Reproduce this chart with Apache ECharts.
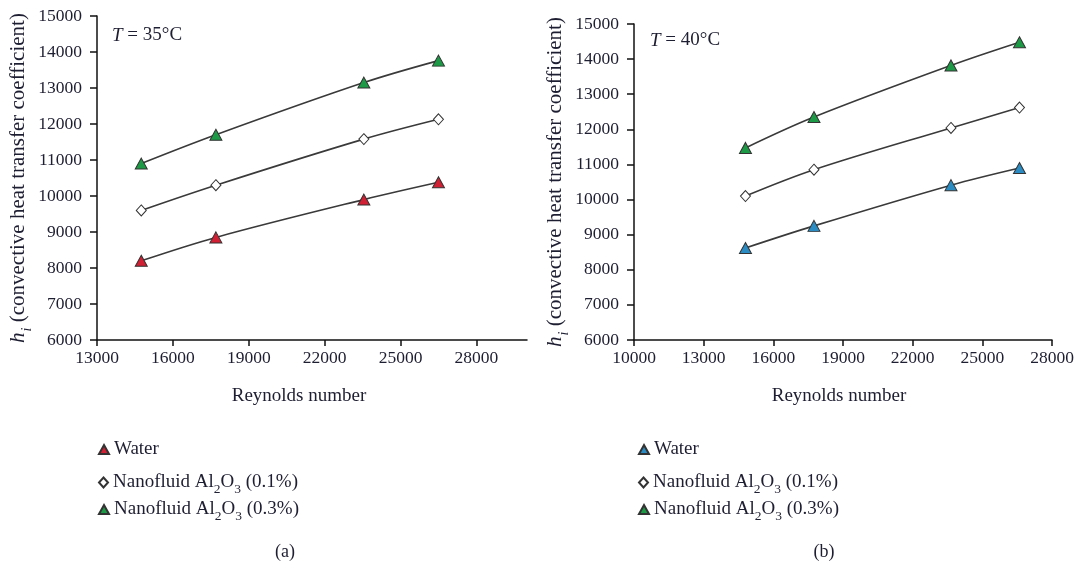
<!DOCTYPE html>
<html>
<head>
<meta charset="utf-8">
<script src="https://cdn.jsdelivr.net/npm/echarts@6/dist/echarts.min.js"></script>
<style>
  html, body { margin: 0; padding: 0; background: #fff; }
  #wrap { position: relative; width: 1087px; height: 569px; }
  #chartA { position: absolute; left: 0; top: 0; width: 543px; height: 569px; }
  #chartB { position: absolute; left: 543px; top: 0; width: 544px; height: 569px; }
</style>
</head>
<body>
<div id="wrap">
  <div id="chartA"></div>
  <div id="chartB"></div>
</div>
<script>
// Reynolds numbers of the four test runs
const reA = [14750, 17700, 23550, 26500];
const reB = [14800, 17750, 23650, 26600];

// h_i at T = 35 °C
const waterA  = [8200, 8850, 9900, 10380];
const nano01A = [9600, 10300, 11580, 12130];
const nano03A = [10900, 11700, 13150, 13760];

// h_i at T = 40 °C
const waterB  = [8620, 9250, 10410, 10900];
const nano01B = [10100, 10850, 12040, 12620];
const nano03B = [11470, 12350, 13820, 14480];

// axis ticks
const yTicks = [6000, 7000, 8000, 9000, 10000, 11000, 12000, 13000, 14000, 15000];
const xTicksA = [13000, 16000, 19000, 22000, 25000, 28000];
const xTicksB = [10000, 13000, 16000, 19000, 22000, 25000, 28000];

const seriesNames = ['Water', 'Nanofluid Al2O3 (0.1%)', 'Nanofluid Al2O3 (0.3%)'];

const FONT = '"Liberation Serif", "DejaVu Serif", serif';
const TXT = '#1e1e32';
const LINE = '#3a3a3a';
const RED = '#d11f33';
const GREEN = '#1c9a45';
const BLUE = '#2a8cc2';

const richSub = {
  sub: { fontFamily: FONT, fontSize: 13.5, color: TXT, verticalAlign: 'bottom', lineHeight: 14, padding: [0, 0, -4, 0] }
};

function legendLabel(name) {
  return name.replace('Al2O3', 'Al{sub|2}O{sub|3}');
}

const plainNumber = v => String(v);

function buildOption(cfg) {
  const markers = [
    { name: seriesNames[0], data: cfg.water, symbol: 'triangle', size: [12, 11], fill: cfg.waterColor },
    { name: seriesNames[1], data: cfg.nano01, symbol: 'diamond', size: [10, 11], fill: '#ffffff' },
    { name: seriesNames[2], data: cfg.nano03, symbol: 'triangle', size: [12, 11], fill: GREEN }
  ];
  const series = markers.map(m => ({
    name: m.name,
    type: 'line',
    smooth: 0.35,
    data: cfg.re.map((r, i) => [r, m.data[i]]),
    symbol: m.symbol,
    symbolSize: m.size,
    showAllSymbol: true,
    lineStyle: { color: LINE, width: 1.6 },
    itemStyle: { color: m.fill, borderColor: '#333', borderWidth: 1 },
    emphasis: { disabled: true },
    z: 3
  }));

  const legends = markers.map((m, i) => ({
    data: [{ name: m.name, icon: m.symbol }],
    left: cfg.legendLeft,
    top: cfg.legendTops[i],
    orient: 'vertical',
    padding: 0,
    itemWidth: m.symbol === 'diamond' ? 9 : 10,
    itemHeight: m.symbol === 'diamond' ? 10 : 9,
    itemGap: 0,
    itemTextGap: 13,
    selectedMode: false,
    formatter: legendLabel,
    textStyle: { fontFamily: FONT, fontSize: 19, color: TXT, rich: richSub }
  }));

  return {
    backgroundColor: '#fff',
    animation: false,
    title: [
      {
        text: '{it|T} = ' + cfg.temp + '°C',
        left: cfg.tempLeft, top: cfg.tempTop,
        padding: 0,
        textStyle: {
          fontFamily: FONT, fontSize: 19, fontWeight: 'normal', color: TXT,
          rich: { it: { fontFamily: FONT, fontSize: 19, fontStyle: 'italic', color: TXT } }
        }
      },
      {
        text: cfg.caption,
        left: cfg.captionLeft, top: 538,
        textAlign: 'center',
        textStyle: { fontFamily: FONT, fontSize: 18, fontWeight: 'normal', color: TXT }
      }
    ],
    legend: legends,
    grid: {
      left: cfg.grid.left, top: cfg.grid.top, width: cfg.grid.width, height: cfg.grid.height,
      containLabel: false, outerBoundsMode: 'none'
    },
    xAxis: {
      type: 'value',
      min: cfg.xMin, max: cfg.xMax, interval: 3000,
      name: 'Reynolds number',
      nameLocation: 'middle',
      nameGap: 47,
      nameMoveOverlap: false,
      nameTextStyle: { fontFamily: FONT, fontSize: 19, color: TXT, padding: cfg.xNamePad },
      axisLine: { lineStyle: { color: '#111', width: 1.5 } },
      axisTick: { show: true, length: 6, lineStyle: { color: '#111', width: 1.5 }, customValues: cfg.xTicks },
      axisLabel: { fontFamily: FONT, fontSize: 17.5, color: TXT, margin: 9, customValues: cfg.xTicks, formatter: plainNumber },
      splitLine: { show: false }
    },
    yAxis: {
      type: 'value',
      min: 6000, max: 15000, interval: 1000,
      name: '{it|h}{si|i} (convective heat transfer coefficient)',
      nameLocation: 'middle',
      nameGap: 68,
      nameMoveOverlap: false,
      nameTextStyle: {
        fontFamily: FONT, fontSize: 21, color: TXT,
        rich: {
          it: { fontFamily: FONT, fontSize: 21, fontStyle: 'italic', color: TXT },
          si: { fontFamily: FONT, fontSize: 14, fontStyle: 'italic', color: TXT, verticalAlign: 'bottom', padding: [0, 0, -5, 1] }
        }
      },
      axisLine: { show: true, lineStyle: { color: '#111', width: 1.5 } },
      axisTick: { show: true, length: 7, lineStyle: { color: '#111', width: 1.5 }, customValues: yTicks },
      axisLabel: { fontFamily: FONT, fontSize: 17.5, color: TXT, margin: 15, customValues: yTicks, formatter: plainNumber },
      splitLine: { show: false }
    },
    series
  };
}

const chartA = echarts.init(document.getElementById('chartA'), null, { renderer: 'canvas' });
chartA.setOption(buildOption({
  re: reA, water: waterA, nano01: nano01A, nano03: nano03A, waterColor: RED,
  temp: '35', tempLeft: 112, tempTop: 26,
  caption: '(a)', captionLeft: 280,
  grid: { left: 97, top: 16, width: 430, height: 324 },
  xMin: 13000, xMax: 30000, xTicks: xTicksA, xNamePad: [0, 26, 0, 0],
  legendLeft: 98, legendTops: [440, 473, 500]
}));

const chartB = echarts.init(document.getElementById('chartB'), null, { renderer: 'canvas' });
chartB.setOption(buildOption({
  re: reB, water: waterB, nano01: nano01B, nano03: nano03B, waterColor: BLUE,
  temp: '40', tempLeft: 107, tempTop: 31,
  caption: '(b)', captionLeft: 276,
  grid: { left: 91, top: 24, width: 418, height: 316 },
  xMin: 10000, xMax: 28000, xTicks: xTicksB, xNamePad: [0, 8, 0, 0],
  legendLeft: 95, legendTops: [440, 473, 500]
}));
</script>
</body>
</html>
